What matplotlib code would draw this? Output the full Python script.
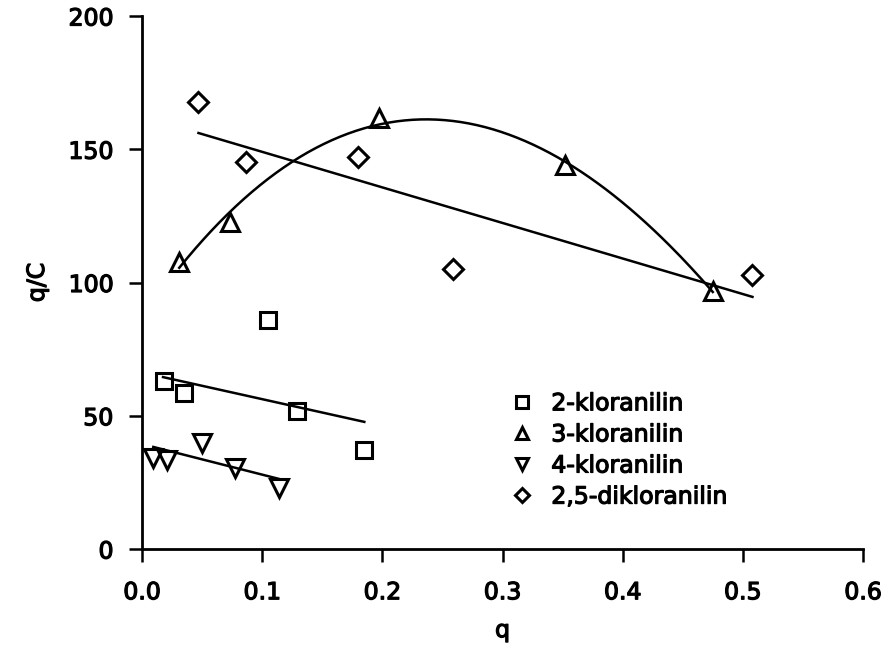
import numpy as np
import matplotlib
matplotlib.use("Agg")
import matplotlib.pyplot as plt
import matplotlib.patheffects as pe

plt.rcParams['font.family'] = ['DejaVu Sans']

# 2-kloranilin
sq_x = [0.018, 0.035, 0.105, 0.129, 0.185]
sq_y = [63.0, 58.5, 85.9, 51.8, 37.1]
sq_fit_x = [0.0175, 0.185]
sq_fit_y = [64.5, 47.7]

# 3-kloranilin
tu_x = [0.031, 0.073, 0.197, 0.352, 0.475]
tu_y = [107.7, 122.7, 161.7, 144.1, 96.8]

# 4-kloranilin
td_x = [0.0094, 0.021, 0.050, 0.0775, 0.114]
td_y = [34.1, 33.4, 39.8, 30.4, 22.9]
td_fit_x = [0.0094, 0.114]
td_fit_y = [38.3, 26.3]

# 2,5-dikloranilin
di_x = [0.047, 0.0865, 0.1796, 0.2585, 0.508]
di_y = [167.7, 145.2, 147.1, 105.1, 102.8]
di_fit_x = [0.047, 0.508]
di_fit_y = [156.1, 94.6]

labels = ['2-kloranilin', '3-kloranilin', '4-kloranilin', '2,5-dikloranilin']
xticks = [0.0, 0.1, 0.2, 0.3, 0.4, 0.5, 0.6]
yticks = [0, 50, 100, 150, 200]

fig = plt.figure(figsize=(8.9, 6.61), dpi=100)
ax = fig.add_axes([142/890, 1-549/661, 721/890, 533/661])

mk = dict(linestyle='none', markerfacecolor='none', markeredgecolor='black', markeredgewidth=2.2)
h1, = ax.plot(sq_x, sq_y, marker='s', markersize=12, label=labels[0], **mk)
h2, = ax.plot(tu_x, tu_y, marker='^', markersize=13, label=labels[1], **mk)
h3, = ax.plot(td_x, td_y, marker='v', markersize=13, label=labels[2], **mk)
h4, = ax.plot(di_x, di_y, marker='D', markersize=10.5, label=labels[3], **mk)

lw = 1.8
ax.plot(sq_fit_x, sq_fit_y, color='black', lw=lw)
ax.plot(td_fit_x, td_fit_y, color='black', lw=lw)
ax.plot(di_fit_x, di_fit_y, color='black', lw=lw)
coef = np.polyfit(tu_x, tu_y, 3)
xx = np.linspace(min(tu_x), max(tu_x), 200)
ax.plot(xx, np.polyval(coef, xx), color='black', lw=lw)

ax.set_xlim(0, 0.6)
ax.set_ylim(0, 200)
ax.set_xticks(xticks)
ax.set_xticklabels([f'{v:.1f}' for v in xticks])
ax.set_yticks(yticks)
for s in ['top', 'right']:
    ax.spines[s].set_visible(False)
for s in ['left', 'bottom']:
    ax.spines[s].set_linewidth(2.0)
ax.tick_params(direction='out', length=9.5, width=1.8, labelsize=17)
ax.tick_params(axis='y', pad=11)
ax.tick_params(axis='x', pad=13)

ax.set_xlabel('q', fontsize=17, labelpad=10)
ax.set_ylabel('q/C', fontsize=17, labelpad=14)

leg = ax.legend(handles=[h1, h2, h3, h4], loc='upper left', bbox_to_anchor=(0.494, 0.318),
                frameon=False, fontsize=17, markerscale=0.7, handlelength=1.0,
                handletextpad=0.75, labelspacing=0.3, borderpad=0)

bold = [pe.withStroke(linewidth=0.9, foreground='black')]
texts = ax.get_xticklabels() + ax.get_yticklabels() + [ax.xaxis.label, ax.yaxis.label] + leg.get_texts()
for t in texts:
    t.set_path_effects(bold)

fig.savefig('out.png', dpi=100)
